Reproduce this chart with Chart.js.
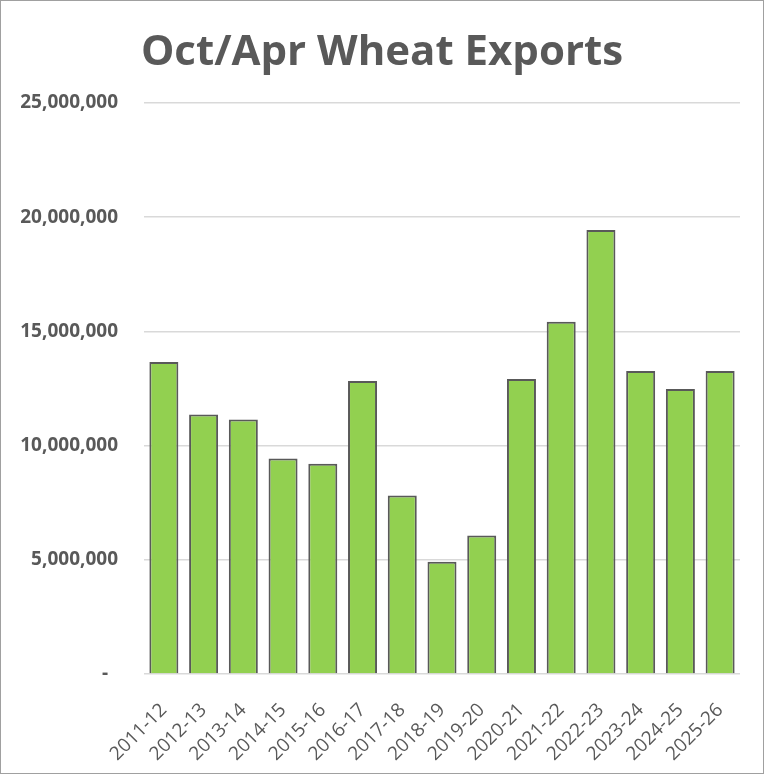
<!DOCTYPE html>
<html>
<head>
<meta charset="utf-8">
<script src="https://cdn.jsdelivr.net/npm/chart.js@4/dist/chart.umd.min.js"></script>
<style>
  html, body { margin: 0; padding: 0; background: #fff; }
  #wrap { position: relative; width: 764px; height: 774px; box-sizing: border-box; border: 1px solid #a0a0a0; }
  #chart { display: block; }
</style>
</head>
<body>
<div id="wrap"><canvas id="chart" width="762" height="772"></canvas></div>
<script>
// Oct/Apr wheat exports by marketing year
const seasons = ['2011-12','2012-13','2013-14','2014-15','2015-16','2016-17','2017-18','2018-19',
                 '2019-20','2020-21','2021-22','2022-23','2023-24','2024-25','2025-26'];
const exportsVol = [13660000, 11360000, 11140000, 9430000, 9210000, 12830000, 7810000, 4910000,
                    6060000, 12920000, 15420000, 19440000, 13270000, 12480000, 13270000];
const yTicks = [0, 5000000, 10000000, 15000000, 20000000, 25000000];

const GREEN = '#92d050', EDGE = '#595959', GRID = '#d9d9d9', TEXT = '#595959';

// title drawn by hand so it sits where Excel put it
const titlePlugin = {
  id: 'bigTitle',
  afterDraw(chart) {
    const c = chart.ctx;
    c.save();
    c.font = 'bold 42px "Open Sans"';
    c.fillStyle = TEXT;
    c.textAlign = 'center';
    c.textBaseline = 'alphabetic';
    c.fillText('Oct/Apr Wheat Exports', 381, 64);
    c.restore();
  }
};

new Chart(document.getElementById('chart'), {
  type: 'bar',
  data: {
    labels: seasons,
    datasets: [{
      label: 'Exports',
      data: exportsVol,
      backgroundColor: GREEN,
      borderColor: EDGE,
      borderWidth: 2,
      categoryPercentage: 1,
      barPercentage: 0.73,
    }]
  },
  options: {
    responsive: false,
    animation: false,
    layout: { padding: { top: 102, right: 23, left: 0, bottom: 0 } },
    plugins: { legend: { display: false }, tooltip: { enabled: false } },
    scales: {
      x: {
        grid: { display: false },
        border: { display: false },
        afterFit: s => { s.height = 99; },
        ticks: {
          color: TEXT, font: { family: 'Open Sans', size: 19 },
          autoSkip: false, maxRotation: 45, minRotation: 45, padding: 17,
        }
      },
      y: {
        min: 0, max: 25000000,
        afterFit: s => { s.width = 143; },
        afterBuildTicks: s => { s.ticks = yTicks.map(v => ({ value: v })); },
        grid: { color: GRID, lineWidth: 1.5, drawTicks: false },
        border: { display: false },
        ticks: {
          color: TEXT, font: { family: 'Open Sans', size: 19, weight: 'bold' }, padding: 26,
          callback: v => v === 0 ? '-  ' : v.toLocaleString('en-US'),
        }
      }
    }
  },
  plugins: [titlePlugin]
});
</script>
</body>
</html>
